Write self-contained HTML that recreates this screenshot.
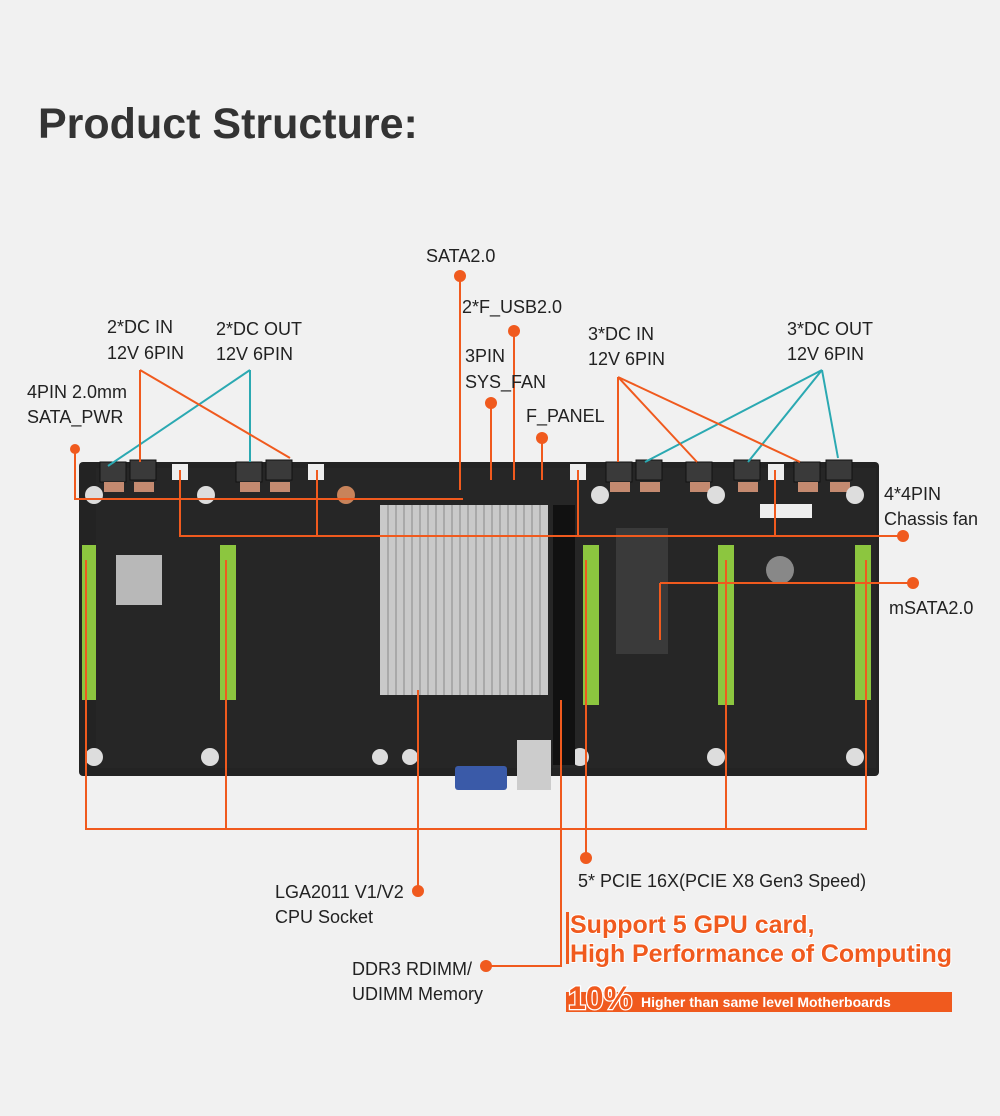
<!DOCTYPE html>
<html><head><style>
body{margin:0;background:#f1f1f1;}
svg{display:block}
text{font-family:"Liberation Sans",sans-serif;fill:#222;font-size:18px}
.o{font-size:25px;font-weight:bold;fill:#f05a1e;stroke:#fff;stroke-width:2;paint-order:stroke}
</style></head><body>
<svg width="1000" height="1116" viewBox="0 0 1000 1116">
<rect width="1000" height="1116" fill="#f1f1f1"/>
<text x="38" y="138" style="font-size:43px;font-weight:bold;fill:#333">Product Structure:</text>
<rect x="79" y="462" width="800" height="314" rx="4" fill="#232323"/>
<rect x="96" y="468" width="780" height="300" fill="#262626"/>
<g fill="#3a3a3a" stroke="#111">
<rect x="100" y="462" width="26" height="20"/><rect x="130" y="460" width="26" height="20"/>
<rect x="236" y="462" width="26" height="20"/><rect x="266" y="460" width="26" height="20"/>
<rect x="606" y="462" width="26" height="20"/><rect x="636" y="460" width="26" height="20"/>
<rect x="686" y="462" width="26" height="20"/><rect x="734" y="460" width="26" height="20"/>
<rect x="794" y="462" width="26" height="20"/><rect x="826" y="460" width="26" height="20"/>
</g>
<g fill="#eee"><rect x="172" y="464" width="16" height="16"/><rect x="308" y="464" width="16" height="16"/><rect x="570" y="464" width="16" height="16"/><rect x="768" y="464" width="16" height="16"/></g>
<g fill="#c48a70"><rect x="104" y="482" width="20" height="10"/><rect x="134" y="482" width="20" height="10"/><rect x="240" y="482" width="20" height="10"/><rect x="270" y="482" width="20" height="10"/><rect x="610" y="482" width="20" height="10"/><rect x="640" y="482" width="20" height="10"/><rect x="690" y="482" width="20" height="10"/><rect x="738" y="482" width="20" height="10"/><rect x="798" y="482" width="20" height="10"/><rect x="830" y="482" width="20" height="10"/></g>
<g fill="#ddd"><circle cx="94" cy="495" r="9"/><circle cx="206" cy="495" r="9"/><circle cx="346" cy="495" r="9" fill="#c8835a"/><circle cx="600" cy="495" r="9"/><circle cx="716" cy="495" r="9"/><circle cx="855" cy="495" r="9"/>
<circle cx="94" cy="757" r="9"/><circle cx="210" cy="757" r="9"/><circle cx="380" cy="757" r="8"/><circle cx="410" cy="757" r="8"/><circle cx="580" cy="757" r="9"/><circle cx="716" cy="757" r="9"/><circle cx="855" cy="757" r="9"/></g>
<rect x="380" y="505" width="168" height="190" fill="#c9c9c9"/>
<g stroke="#a9a9a9" stroke-width="2">
<path d="M388 505V695M396 505V695M404 505V695M412 505V695M420 505V695M428 505V695M436 505V695M444 505V695M452 505V695M460 505V695M468 505V695M476 505V695M484 505V695M492 505V695M500 505V695M508 505V695M516 505V695M524 505V695M532 505V695M540 505V695"/></g>
<rect x="116" y="555" width="46" height="50" fill="#b8b8b8"/>
<rect x="616" y="528" width="52" height="126" fill="#3a3a3a"/>
<circle cx="780" cy="570" r="14" fill="#888"/>
<rect x="760" y="504" width="52" height="14" fill="#eee"/>
<rect x="553" y="505" width="22" height="260" fill="#111"/>
<g fill="#8cc63f"><rect x="82" y="545" width="14" height="155"/><rect x="220" y="545" width="16" height="155"/><rect x="583" y="545" width="16" height="160"/><rect x="718" y="545" width="16" height="160"/><rect x="855" y="545" width="16" height="155"/></g>
<rect x="455" y="766" width="52" height="24" rx="3" fill="#3a5aa8"/>
<rect x="517" y="740" width="34" height="50" fill="#ccc"/>
<g stroke="#2ba9b2" stroke-width="2" fill="none">
<path d="M250 370V462M250 370L108 466M822 370L645 462M822 370L748 462M822 370L838 458"/></g>
<g stroke="#f05a1e" stroke-width="2" fill="none">
<path d="M140 370V462M140 370L290 458M618 377V462M618 377L697 462M618 377L800 462"/>
<path d="M75 449V499H463"/>
<path d="M180 470V536H903M317 470V536"/>
<path d="M660 583H913M660 583V640"/>
<path d="M460 276V490M491 403V480M514 331V480M542 438V480"/>
<path d="M578 470V536M775 470V536"/>
<path d="M86 560V829H866V560M226 560V829M586 560V858M726 560V829"/>
<path d="M418 891V690M486 966H561V700"/>
</g>
<g fill="#f05a1e"><circle cx="75" cy="449" r="5"/><circle cx="903" cy="536" r="6"/><circle cx="913" cy="583" r="6"/><circle cx="460" cy="276" r="6"/><circle cx="514" cy="331" r="6"/><circle cx="491" cy="403" r="6"/><circle cx="542" cy="438" r="6"/><circle cx="586" cy="858" r="6"/><circle cx="418" cy="891" r="6"/><circle cx="486" cy="966" r="6"/></g>
<text x="426" y="262">SATA2.0</text>
<text x="462" y="313">2*F_USB2.0</text>
<text x="465" y="362">3PIN</text><text x="465" y="388">SYS_FAN</text>
<text x="526" y="422">F_PANEL</text>
<text x="107" y="333">2*DC IN</text><text x="107" y="359">12V 6PIN</text>
<text x="216" y="335">2*DC OUT</text><text x="216" y="360">12V 6PIN</text>
<text x="27" y="398">4PIN 2.0mm</text><text x="27" y="423">SATA_PWR</text>
<text x="588" y="340">3*DC IN</text><text x="588" y="365">12V 6PIN</text>
<text x="787" y="335">3*DC OUT</text><text x="787" y="360">12V 6PIN</text>
<text x="884" y="500">4*4PIN</text><text x="884" y="525">Chassis fan</text>
<text x="889" y="614">mSATA2.0</text>
<text x="578" y="887">5* PCIE 16X(PCIE X8 Gen3 Speed)</text>
<text x="275" y="898">LGA2011 V1/V2</text><text x="275" y="923">CPU Socket</text>
<text x="352" y="975">DDR3 RDIMM/</text><text x="352" y="1000">UDIMM Memory</text>
<rect x="566" y="912" width="3" height="52" fill="#f05a1e"/>
<rect x="566" y="992" width="386" height="20" fill="#f05a1e"/>
<text x="570" y="933" class="o">Support 5 GPU card,</text>
<text x="570" y="962" class="o" textLength="382">High Performance of Computing</text>
<text x="568" y="1009" class="o" style="font-size:32px;stroke-width:2.5">10%</text>
<text x="641" y="1007" style="font-size:14px;font-weight:bold;fill:#fff">Higher than same level Motherboards</text>
</svg>
</body></html>
